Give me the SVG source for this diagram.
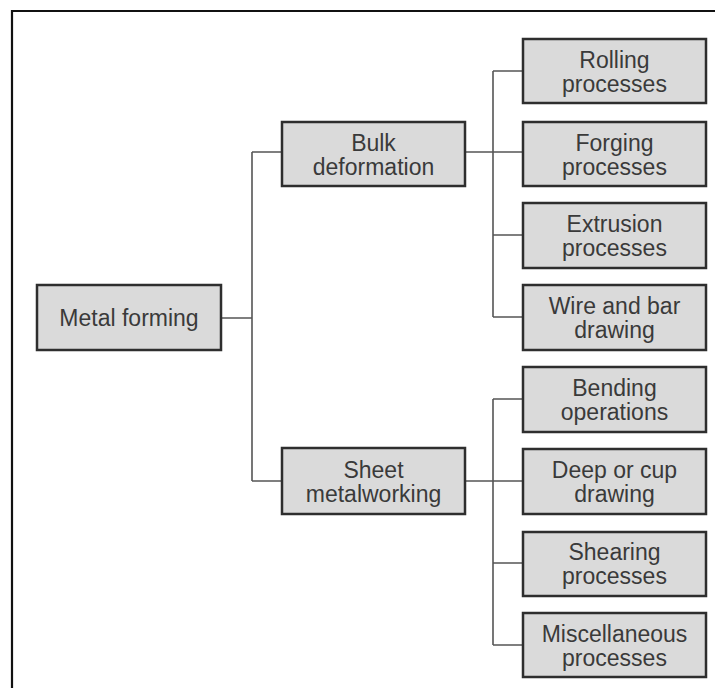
<svg xmlns="http://www.w3.org/2000/svg" width="715" height="688" viewBox="0 0 715 688">
<style>
.box{fill:#dadada;stroke:#2e2e2e;stroke-width:2.5}
.t{font-family:"Liberation Sans",Arial,sans-serif;font-size:23px;fill:#3a3a3a;text-anchor:middle}
.c{fill:none;stroke:#555;stroke-width:1.6}
</style>
<rect x="0" y="0" width="715" height="688" fill="#fff"/>
<path d="M12 700 V11 H720" fill="none" stroke="#111" stroke-width="2.2"/>
<g id="connectors">
<path class="c" d="M221 318 H252 M252 152 V481 M252 152 H282 M252 481 H282"/>
<path class="c" d="M465 152 H523 M493 71 V317 M493 71 H523 M493 235 H523 M493 317 H523"/>
<path class="c" d="M465 481 H523 M493 399 V645 M493 399 H523 M493 563 H523 M493 645 H523"/>
</g>
<g id="metal-forming"><rect class="box" x="37" y="285" width="184" height="65"/><text class="t" x="129" y="326">Metal forming</text></g>
<g id="bulk-deformation"><rect class="box" x="282" y="122" width="183" height="64"/><text class="t" x="373.5" y="151">Bulk</text><text class="t" x="373.5" y="175">deformation</text></g>
<g id="sheet-metalworking"><rect class="box" x="282" y="448" width="183" height="66"/><text class="t" x="373.5" y="478">Sheet</text><text class="t" x="373.5" y="502">metalworking</text></g>
<g id="rolling"><rect class="box" x="523" y="39" width="183" height="64"/><text class="t" x="614.5" y="68">Rolling</text><text class="t" x="614.5" y="92">processes</text></g>
<g id="forging"><rect class="box" x="523" y="122" width="183" height="64"/><text class="t" x="614.5" y="151">Forging</text><text class="t" x="614.5" y="175">processes</text></g>
<g id="extrusion"><rect class="box" x="523" y="203" width="183" height="65"/><text class="t" x="614.5" y="232">Extrusion</text><text class="t" x="614.5" y="256">processes</text></g>
<g id="wire-bar"><rect class="box" x="523" y="285" width="183" height="65"/><text class="t" x="614.5" y="314">Wire and bar</text><text class="t" x="614.5" y="338">drawing</text></g>
<g id="bending"><rect class="box" x="523" y="367" width="183" height="65"/><text class="t" x="614.5" y="396">Bending</text><text class="t" x="614.5" y="420">operations</text></g>
<g id="deep-cup"><rect class="box" x="523" y="449" width="183" height="65"/><text class="t" x="614.5" y="478">Deep or cup</text><text class="t" x="614.5" y="502">drawing</text></g>
<g id="shearing"><rect class="box" x="523" y="532" width="183" height="64"/><text class="t" x="614.5" y="560">Shearing</text><text class="t" x="614.5" y="584">processes</text></g>
<g id="misc"><rect class="box" x="523" y="613" width="183" height="64"/><text class="t" x="614.5" y="642">Miscellaneous</text><text class="t" x="614.5" y="666">processes</text></g>
</svg>
